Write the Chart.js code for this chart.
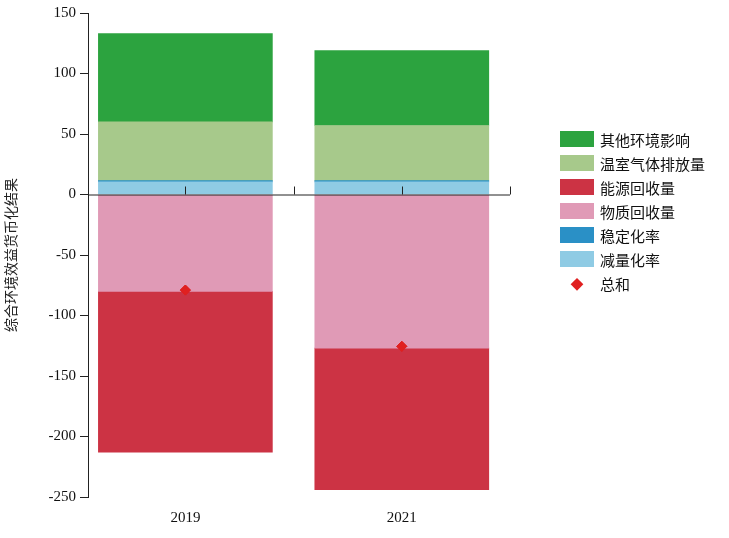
<!DOCTYPE html>
<html><head><meta charset="utf-8">
<script src="https://cdn.jsdelivr.net/npm/chart.js@4"></script>
<style>
body{margin:0;background:#fff;width:729px;height:538px;overflow:hidden;position:relative}
#c{position:absolute;left:0;top:0}
#lg{position:absolute;left:560px;top:127px;font-family:"Noto Sans CJK SC";font-size:15px;color:#111}
#lg div{height:24px;display:flex;align-items:center}
#lg span.b{display:inline-block;width:34px;height:16px;margin-right:6px}
#lg span.d{display:inline-block;width:34px;text-align:center;margin-right:6px}
</style></head><body>
<canvas id="c" width="729" height="538"></canvas>
<div id="lg"></div>
<script>
const categories=['2019','2021'];
const otherEnv=[73,62];
const ghg=[48.5,45.5];
const stabilization=[1,1];
const reduction=[10.5,10.5];
const materialRecovery=[-80,-127];
const energyRecovery=[-133,-117];
const totals=[-79,-125.5];
const yTicks=[-250,-200,-150,-100,-50,0,50,100,150];

const names=['其他环境影响','温室气体排放量','能源回收量','物质回收量','稳定化率','减量化率','总和'];
const cols=['#2ca33f','#a7c98b','#cc3344','#e09ab6','#2a90c6','#8fcbe4','#e02020'];
const pts=a=>a.map((v,i)=>({x:i,y:v}));
const bar=(label,data,color)=>({type:'bar',label,data:pts(data),backgroundColor:color,barThickness:174,stack:'s',borderWidth:0,order:1});
const ds=[
 bar(names[5],reduction,cols[5]),
 bar(names[4],stabilization,cols[4]),
 bar(names[1],ghg,cols[1]),
 bar(names[0],otherEnv,cols[0]),
 bar(names[3],materialRecovery,cols[3]),
 bar(names[2],energyRecovery,cols[2]),
 {type:'line',label:names[6],data:pts(totals),stack:'t',order:-1,showLine:false,pointStyle:'rectRot',pointRadius:5,backgroundColor:cols[6],borderColor:cols[6]}
];
const axisPlugin={id:'ax',afterDatasetsDraw(ch){
 const c=ch.ctx,x=ch.scales.x,y=ch.scales.y,y0=y.getPixelForValue(0);
 c.save();c.strokeStyle='#222';c.lineWidth=1;c.beginPath();
 c.moveTo(ch.chartArea.left,y0+0.5);c.lineTo(ch.chartArea.right,y0+0.5);
 [0,0.5,1,1.5].forEach(v=>{const px=Math.round(x.getPixelForValue(v))+0.5;c.moveTo(px,y0);c.lineTo(px,y0-8);});
 c.stroke();c.restore();
 const m=ch.getDatasetMeta(6);m.controller.draw();}};
new Chart(document.getElementById('c'),{
 data:{datasets:ds},
 options:{responsive:false,animation:false,
  layout:{padding:{top:12,right:219,left:0,bottom:0}},
  plugins:{legend:{display:false},tooltip:{enabled:false}},
  scales:{
   x:{type:'linear',min:-0.45,max:1.5,offset:false,stacked:true,
     afterDataLimits:s=>{s.min=-0.45;s.max=1.5;},
     afterBuildTicks:s=>{s.ticks=categories.map((c,i)=>({value:i}));},
     afterFit:s=>{s.height=41;},
     grid:{display:false,offset:false},border:{display:false},
     ticks:{callback:v=>categories[v],color:'#111',font:{family:'Liberation Serif',size:15},padding:4,maxRotation:0}},
   y:{stacked:true,min:-250,max:150,
     afterBuildTicks:s=>{s.ticks=yTicks.map(v=>({value:v}));},
     afterFit:s=>{s.width=88;},
     grid:{drawOnChartArea:false,tickLength:8,color:'#222'},border:{color:'#222'},
     ticks:{color:'#111',font:{family:'Liberation Serif',size:15},padding:4},
     title:{display:true,text:'综合环境效益货币化结果',color:'#222',font:{family:'Noto Sans CJK SC',size:14},padding:2}}
  }},
 plugins:[axisPlugin]});
const lg=document.getElementById('lg');
[0,1,2,3,4,5,6].forEach(i=>{const d=document.createElement('div');
 d.innerHTML=(i<6?`<span class="b" style="background:${cols[i]}"></span>`:`<span class="d" style="color:${cols[6]};font-size:13px">◆</span>`)+names[i];lg.appendChild(d);});
</script></body></html>
